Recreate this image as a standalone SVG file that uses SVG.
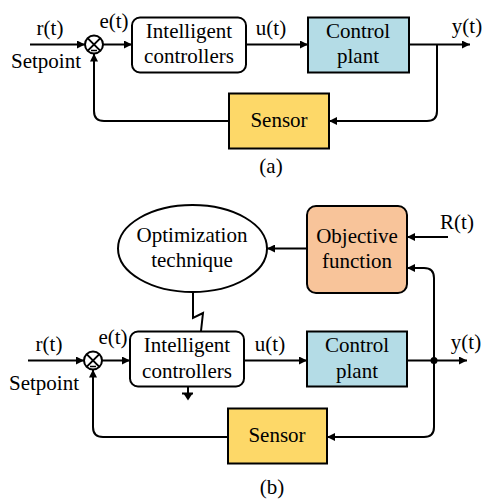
<svg xmlns="http://www.w3.org/2000/svg" width="483" height="500" viewBox="0 0 483 500">
<defs>
<marker id="arr" viewBox="0 0 10 10" refX="10" refY="5" markerWidth="8" markerHeight="8" markerUnits="userSpaceOnUse" orient="auto">
<path d="M0,0 L10,5 L0,10 z" fill="#000"/>
</marker>
</defs>
<style>
text{font-family:"Liberation Serif","Times New Roman",serif;font-size:21px;fill:#000;text-anchor:middle}
.box{stroke:#000;stroke-width:2}
.ln{fill:none;stroke:#000;stroke-width:2}
.plant{fill:#b4dce6}
.sensor{fill:#fdd868}
.obj{fill:#f8c49a}
.ctrl{fill:#fff}
</style>
<rect width="483" height="500" fill="#fff"/>

<!-- (a) -->
<g id="a-connectors">
<path class="ln" d="M30,44.5 H85" marker-end="url(#arr)"/>
<path class="ln" d="M103,44.5 H132" marker-end="url(#arr)"/>
<path class="ln" d="M246,44.5 H308" marker-end="url(#arr)"/>
<path class="ln" d="M409,44.5 H470" marker-end="url(#arr)"/>
<path class="ln" d="M437,44.5 V111 Q437,121 427,121 H329" marker-end="url(#arr)"/>
<path class="ln" d="M229,121 H104 Q94,121 94,111 V53.5" marker-end="url(#arr)"/>
</g>
<g id="a-sum">
<circle cx="94" cy="44.5" r="9" fill="#fff" stroke="#000" stroke-width="2"/>
<path class="ln" d="M87.6,38.1 L100.4,50.9 M100.4,38.1 L87.6,50.9" stroke-width="1.6"/>
<path d="M91,50.5 H97" stroke="#000" stroke-width="1.5"/>
</g>
<g id="a-labels">
<text x="50" y="35">r(t)</text>
<text x="46" y="68">Setpoint</text>
<text x="114" y="28">e(t)</text>
<text x="271" y="35">u(t)</text>
<text x="467" y="33">y(t)</text>
</g>
<g id="a-controller">
<rect class="box ctrl" x="132" y="17.5" width="114" height="55" rx="8"/>
<text x="189" y="38">Intelligent</text>
<text x="189" y="63">controllers</text>
</g>
<g id="a-plant">
<rect class="box plant" x="308" y="17.5" width="101" height="55"/>
<text x="358" y="38">Control</text>
<text x="358" y="63">plant</text>
</g>
<g id="a-sensor">
<rect class="box sensor" x="229" y="93.5" width="100" height="55"/>
<text x="279" y="127">Sensor</text>
</g>
<text x="271" y="173">(a)</text>

<!-- (b) -->
<g id="b-connectors">
<path class="ln" d="M28,360.5 H84" marker-end="url(#arr)"/>
<path class="ln" d="M102,360.5 H130" marker-end="url(#arr)"/>
<path class="ln" d="M244,360.5 H307" marker-end="url(#arr)"/>
<path class="ln" d="M407,360.5 H467" marker-end="url(#arr)"/>
<path class="ln" d="M434,360.5 V427 Q434,437 424,437 H327" marker-end="url(#arr)"/>
<path class="ln" d="M434,360.5 V278 Q434,268 424,268 H407" marker-end="url(#arr)"/>
<path class="ln" d="M228,437 H103 Q93,437 93,427 V369.5" marker-end="url(#arr)"/>
<path class="ln" d="M448,237 H407" marker-end="url(#arr)"/>
<path class="ln" d="M307,248.5 H267" marker-end="url(#arr)"/>
<path class="ln" d="M193,292 V318 L203,313 L201,331"/>
<path class="ln" d="M188,387 V394 M182,393.5 H193"/>
<path d="M183.5,393.5 L192.5,393.5 L188,400.5 z" fill="#000"/>
<circle cx="434" cy="360.5" r="3.5" fill="#000"/>
</g>
<g id="b-sum">
<circle cx="93" cy="360.5" r="9" fill="#fff" stroke="#000" stroke-width="2"/>
<path class="ln" d="M86.6,354.1 L99.4,366.9 M99.4,354.1 L86.6,366.9" stroke-width="1.6"/>
<path d="M90,366.5 H96" stroke="#000" stroke-width="1.5"/>
</g>
<g id="b-labels">
<text x="49" y="351">r(t)</text>
<text x="44" y="390">Setpoint</text>
<text x="113" y="344">e(t)</text>
<text x="270" y="351">u(t)</text>
<text x="466" y="349">y(t)</text>
<text x="457" y="229">R(t)</text>
</g>
<g id="b-optimization">
<ellipse cx="192.5" cy="248.5" rx="74.5" ry="43.5" fill="#fff" stroke="#000" stroke-width="2"/>
<text x="192" y="242">Optimization</text>
<text x="192" y="267">technique</text>
</g>
<g id="b-objective">
<rect class="box obj" x="307" y="206" width="100" height="87" rx="9"/>
<text x="357" y="243">Objective</text>
<text x="357" y="268">function</text>
</g>
<g id="b-controller">
<rect class="box ctrl" x="130" y="331.5" width="114" height="55" rx="8"/>
<text x="187" y="352">Intelligent</text>
<text x="187" y="378">controllers</text>
</g>
<g id="b-plant">
<rect class="box plant" x="307" y="331.5" width="100" height="55"/>
<text x="357" y="352">Control</text>
<text x="357" y="378">plant</text>
</g>
<g id="b-sensor">
<rect class="box sensor" x="228" y="408.5" width="99" height="55"/>
<text x="277" y="442">Sensor</text>
</g>
<text x="272" y="494">(b)</text>
</svg>
